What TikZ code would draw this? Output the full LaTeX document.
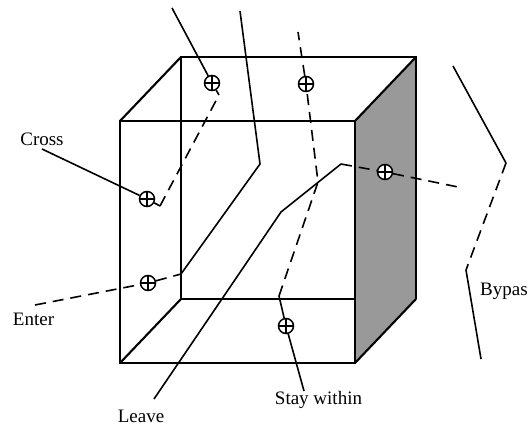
\documentclass[tikz,border=0pt]{standalone}
\usepackage{fontspec}
\setmainfont{Liberation Serif}
\usetikzlibrary{positioning}
\definecolor{facegray}{HTML}{999999}

\begin{document}
\begin{tikzpicture}[
      x=1pt, y=-1pt,
      crossmark/.style={circle, draw, line width=1.5pt, fill=white, minimum size=15pt, inner sep=0pt,
        path picture={
          \draw[line width=1.4pt] (path picture bounding box.north) -- (path picture bounding box.south);
          \draw[line width=1.4pt] (path picture bounding box.west) -- (path picture bounding box.east);
        }},
      caption/.style={font=\fontsize{19}{22}\selectfont, inner sep=0pt},
      edge/.style={line width=2.1pt},
      track/.style={line width=1.6pt},
      hidden/.style={line width=1.6pt, dash pattern=on 11pt off 7pt}
    ]
      \useasboundingbox (0,0) rectangle (531,425);
      % cube corners
      \coordinate (f1) at (120,121);
      \coordinate (f2) at (355,121);
      \coordinate (f3) at (355,363);
      \coordinate (f4) at (120,363);
      \coordinate (b1) at (181,57);
      \coordinate (b2) at (416,57);
      \coordinate (b3) at (416,299);
      \coordinate (b4) at (181,299);
      \coordinate (b5) at (355,299);
      \fill[facegray] (f2) -- (b2) -- (b3) -- (f3) -- cycle;
      \draw[edge] (f1) -- (f2) -- (f3) -- (f4) -- cycle;
      \draw[edge] (b5) -- (b4) -- (b1) -- (b2) -- (b3);
      \draw[edge] (f1) -- (b1);
      \draw[edge] (f2) -- (b2);
      \draw[edge] (f3) -- (b3);
      \draw[edge] (f4) -- (b4);

      \node[crossmark] (x1) at (212,83) {};
      \node[crossmark] (x2) at (306,84) {};
      \node[crossmark] (x3) at (147,199) {};
      \node[crossmark] (x4) at (385,172) {};
      \node[crossmark] (x5) at (148,283) {};
      \node[crossmark] (x6) at (286,326) {};

      \node[caption] (cross) at (42,139) {Cross};
      \node[caption] (enter) at (33.5,319) {Enter};
      \node[caption] (leave) at (141,416) {Leave};
      \node[caption] (stay) at (318.5,400) {Stay within};
      \node[caption, anchor=west] (bypass) at (480,291) {Bypas};

      % cross
      \coordinate (c1) at (42,149);
      \coordinate (c2) at (160,206);
      \coordinate (c3) at (219,95);
      \coordinate (c4) at (172,8);
      \draw[track] (c1) -- (x3);
      \draw[track] (x3) -- (c2);
      \draw[hidden] (c2) -- (c3);
      \draw[track] (c3) -- (x1);
      \draw[track] (x1) -- (c4);
      % enter
      \coordinate (e1) at (35,305);
      \coordinate (e2) at (181,274);
      \coordinate (e3) at (260,164);
      \coordinate (e4) at (240,11);
      \draw[hidden] (e1) -- (x5);
      \draw[hidden] (x5) -- (e2);
      \draw[track] (e2) -- (e3) -- (e4);
      % leave
      \coordinate (l1) at (154,399);
      \coordinate (l2) at (281,212);
      \coordinate (l3) at (341,164);
      \coordinate (l4) at (458,187);
      \draw[track] (l1) -- (l2) -- (l3);
      \draw[hidden] (l3) -- (x4);
      \draw[hidden] (x4) -- (l4);
      % stay within
      \coordinate (s1) at (304,391);
      \coordinate (s2) at (279,296);
      \coordinate (s3) at (318,182);
      \coordinate (s4) at (298,32);
      \draw[track] (s1) -- (x6);
      \draw[track] (x6) -- (s2);
      \draw[hidden] (s2) -- (s3) -- (x2);
      \draw[hidden] (x2) -- (s4);
      % bypass
      \coordinate (p1) at (453,66);
      \coordinate (p2) at (506,163);
      \coordinate (p3) at (466,270);
      \coordinate (p4) at (481,359);
      \draw[track] (p1) -- (p2);
      \draw[hidden] (p2) -- (p3);
      \draw[track] (p3) -- (p4);
    \end{tikzpicture}
\end{document}
